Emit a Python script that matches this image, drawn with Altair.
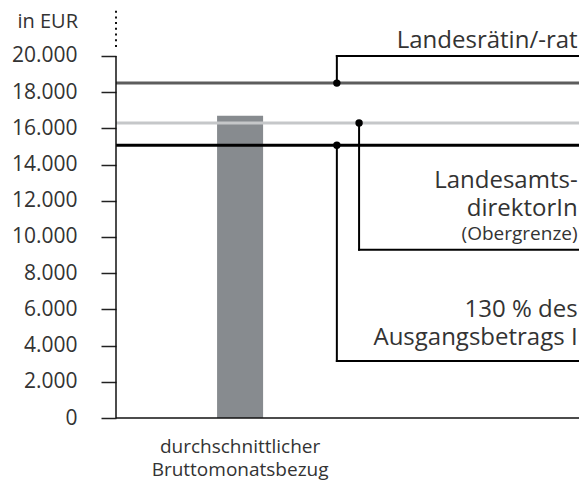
import altair as alt
import pandas as pd

# ---- data ----
bar_category = ["durchschnittlicher", "Bruttomonatsbezug"]
bar_values = [16700]
ref_names = ["Landesrätin/-rat", "LandesamtsdirektorIn (Obergrenze)", "130 % des Ausgangsbetrags I"]
ref_values = [18500, 16300, 15070]
ref_colors = ["#5d5d5d", "#c5c7c9", "#000000"]
connector_end = [20000, 9300, 3150]
y_ticks = [0, 2000, 4000, 6000, 8000, 10000, 12000, 14000, 16000, 18000, 20000]
label_texts = ["Landesrätin/-rat", "Landesamts-\ndirektorIn", "(Obergrenze)", "130 % des\nAusgangsbetrags I"]
label_y = [20830, 13094, 10166, 5967]
label_big = [True, True, False, True]

# ---- layout (x in 0..100 of plot width) ----
PLOT_W = 463
BAR_CENTER = 26.8
BAR_HALF = 4.97
CONNECTOR_X = [47.7, 52.5, 47.7]
LABEL_X = 99.7
FONT = "Open Sans"
TEXT_COLOR = "#333333"
YMAX = 22650

yscale = alt.Scale(domain=[0, YMAX], nice=False)
xscale = alt.Scale(domain=[0, 100], nice=False, zero=False)

bar_df = pd.DataFrame({"x": [BAR_CENTER - BAR_HALF], "x2": [BAR_CENTER + BAR_HALF], "v": bar_values})
ref_df = pd.DataFrame({"name": ref_names, "v": ref_values, "color": ref_colors,
                       "x0": [0] * 3, "x1": [100] * 3,
                       "cx": CONNECTOR_X, "end": connector_end})
lab_df = pd.DataFrame({"t": label_texts, "y": label_y, "big": label_big, "x": [LABEL_X] * len(label_texts)})
cat_df = pd.DataFrame({"t": ["\n".join(bar_category)], "y": [-1600], "x": [BAR_CENTER]})

base = alt.Chart(ref_df)
one = base.transform_filter("datum.name == '" + ref_names[0] + "'")

bar = alt.Chart(bar_df).mark_bar(color="#878b8f").encode(
    x=alt.X("x:Q", scale=xscale, axis=None),
    x2="x2:Q",
    y=alt.Y("v:Q", scale=yscale, axis=alt.Axis(
        values=y_ticks, title=None, domain=False, grid=False,
        tickSize=15, tickWidth=1.5, tickColor="#222222",
        labelPadding=24, labelFontSize=21, labelFont=FONT, labelColor=TEXT_COLOR,
        labelExpr="replace(format(datum.value, ','), ',', '.')")),
    y2=alt.datum(0),
)

yaxis_line = one.mark_rule(color="#111111", strokeWidth=1.5).encode(
    x=alt.datum(0), y=alt.datum(0), y2=alt.datum(20000))
dotted = one.mark_rule(color="#111111", strokeWidth=2, strokeDash=[2, 3.7]).encode(
    x=alt.datum(0), y=alt.datum(20500), y2=alt.datum(22600))
baseline = one.mark_rule(color="#111111", strokeWidth=1.5).encode(
    x=alt.datum(0), x2=alt.datum(100), y=alt.datum(0))

refs = base.mark_rule(strokeWidth=3).encode(
    x="x0:Q", x2="x1:Q", y="v:Q",
    color=alt.Color("color:N", scale=None))

vconn = base.mark_rule(strokeWidth=2, color="#000000", strokeCap="square").encode(
    x="cx:Q", y="v:Q", y2="end:Q")
hconn = base.mark_rule(strokeWidth=2, color="#000000", strokeCap="square").encode(
    x="cx:Q", x2="x1:Q", y="end:Q")
dots = base.mark_circle(size=55, color="#000000", opacity=1).encode(
    x="cx:Q", y="v:Q")

labels_big = alt.Chart(lab_df).transform_filter("datum.big").mark_text(
    align="right", baseline="middle", font=FONT, fontSize=24, color=TEXT_COLOR,
    lineBreak="\n", lineHeight=28).encode(
    x="x:Q", y="y:Q", text="t:N")
labels_small = alt.Chart(lab_df).transform_filter("!datum.big").mark_text(
    align="right", baseline="middle", font=FONT, fontSize=19, color=TEXT_COLOR).encode(
    x="x:Q", y="y:Q", text="t:N")

cat_text = alt.Chart(cat_df).mark_text(
    align="center", baseline="middle", font=FONT, fontSize=19, color=TEXT_COLOR,
    lineBreak="\n", lineHeight=23).encode(
    x="x:Q", y="y:Q", text="t:N")

unit_text = one.mark_text(
    align="right", baseline="middle", font=FONT, fontSize=20, color=TEXT_COLOR,
    text="in EUR").encode(x=alt.datum(-8.2), y=alt.datum(21850))

chart = alt.layer(
    bar, refs, yaxis_line, dotted, baseline, vconn, hconn, dots,
    labels_big, labels_small, cat_text, unit_text
).properties(
    width=PLOT_W, height=410,
    autosize=alt.AutoSizeParams(type="none"),
    padding={"left": 108, "top": 0, "right": 0, "bottom": 64},
).configure_view(stroke=None)

chart.save("out.html", embed_options={"renderer": "svg", "actions": False})
